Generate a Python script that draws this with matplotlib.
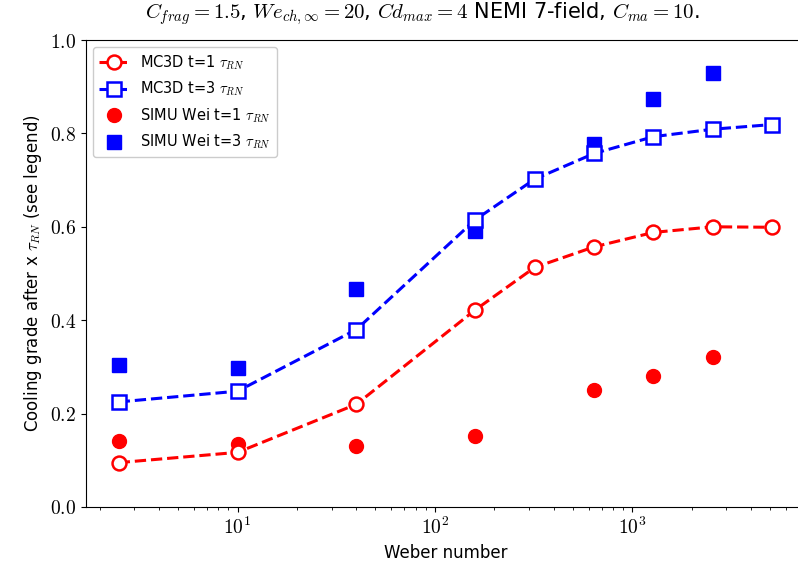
import matplotlib
matplotlib.use("Agg")
import matplotlib.pyplot as plt
from matplotlib.ticker import FormatStrFormatter, FuncFormatter, LogLocator
import numpy as np

plt.rcParams['mathtext.fontset'] = 'cm'
plt.rcParams['font.family'] = ['DejaVu Sans']

weber = [2.5, 10, 40, 160, 320, 640, 1280, 2560, 5120]
mc3d_t1 = [0.095, 0.117, 0.220, 0.422, 0.513, 0.557, 0.588, 0.600, 0.599]
mc3d_t3 = [0.225, 0.248, 0.380, 0.615, 0.702, 0.757, 0.793, 0.809, 0.819]

simu_we_t1 = [2.5, 10, 40, 160, 640, 1280, 2560]
simu_t1 = [0.142, 0.134, 0.130, 0.153, 0.250, 0.280, 0.321]
simu_we_t3 = [2.5, 10, 40, 160, 640, 1280, 2560]
simu_t3 = [0.305, 0.297, 0.467, 0.590, 0.777, 0.873, 0.929]

fig = plt.figure(figsize=(7.98, 5.74), dpi=100)
ax = fig.add_axes([86/798, 67/574, (805-86)/798, 467/574])

ax.plot(simu_we_t1, simu_t1, 'o', color='red', markersize=10, linestyle='none',
        label=r'SIMU Wei t=1 $\tau_{RN}$', zorder=2)
ax.plot(simu_we_t3, simu_t3, 's', color='blue', markersize=10, linestyle='none',
        label=r'SIMU Wei t=3 $\tau_{RN}$', zorder=2)
ax.plot(weber, mc3d_t1, '--o', color='red', markerfacecolor='white',
        markeredgecolor='red', markersize=10, markeredgewidth=1.8, linewidth=2.2,
        label=r'MC3D t=1 $\tau_{RN}$', zorder=3)
ax.plot(weber, mc3d_t3, '--s', color='blue', markerfacecolor='white',
        markeredgecolor='blue', markersize=10, markeredgewidth=1.8, linewidth=2.2,
        label=r'MC3D t=3 $\tau_{RN}$', zorder=3)

ax.set_xscale('log')
ax.xaxis.set_major_locator(LogLocator(base=10))
ax.xaxis.set_major_formatter(FuncFormatter(lambda v, p: r'$10^{%d}$' % int(round(np.log10(v)))))
ax.set_ylim(0, 1.0)
ax.set_yticks([0.0, 0.2, 0.4, 0.6, 0.8, 1.0])
ax.yaxis.set_major_formatter(FormatStrFormatter('$%.1f$'))
ax.tick_params(axis='both', labelsize=14)
ax.spines['right'].set_visible(False)

ax.set_xlabel('Weber number', fontsize=12)
ax.set_ylabel(r'Cooling grade after x $\tau_{RN}$ (see legend)', fontsize=12)

handles, labels = ax.get_legend_handles_labels()
order = [2, 3, 0, 1]
ax.legend([handles[i] for i in order], [labels[i] for i in order],
          loc='upper left', fontsize=10.5, framealpha=1.0, edgecolor='#cccccc',
          labelspacing=0.55, handlelength=2.0)

fig.text(422/798, 1 - 14/574,
         r'$C_{frag} = 1.5$, $We_{ch,\infty} = 20$, $Cd_{max} = 4$ NEMI 7-field, $C_{ma} = 10$.',
         ha='center', va='center', fontsize=15)

fig.savefig('out.png', dpi=100)
